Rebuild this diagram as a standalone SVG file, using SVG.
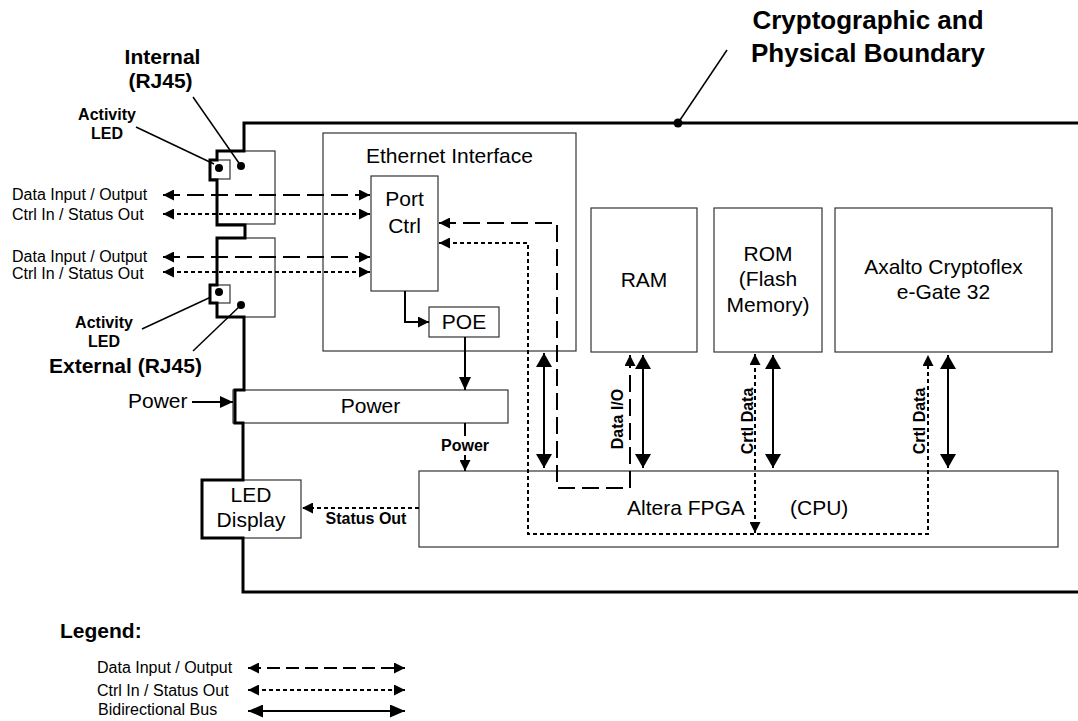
<svg xmlns="http://www.w3.org/2000/svg" width="1078" height="721" viewBox="0 0 1078 721">
<style>
text{font-family:"Liberation Sans",Arial,sans-serif;fill:#000}
.n{font-size:21px}
.b{font-weight:bold}
.s16{font-size:16px}
.t26{font-size:26px;font-weight:bold}
.box{fill:#fff;stroke:#333;stroke-width:1.2}
.bd{fill:none;stroke:#000;stroke-width:3;stroke-linejoin:miter}
.ln{fill:none;stroke:#000;stroke-width:2}
.ld{fill:none;stroke:#000;stroke-width:1.5}
.da{stroke-dasharray:17 7}
.dl{stroke-dasharray:13 6}
.dt{stroke-dasharray:4 3}
.c{text-anchor:middle}
</style>
<defs>
<marker id="sm" viewBox="0 0 11 11" refX="11" refY="5.5" markerWidth="11" markerHeight="11" markerUnits="userSpaceOnUse" orient="auto-start-reverse"><path d="M0,0L11,5.5L0,11z" fill="#000"/></marker>
<marker id="md" viewBox="0 0 13 12" refX="13" refY="6" markerWidth="13" markerHeight="12" markerUnits="userSpaceOnUse" orient="auto-start-reverse"><path d="M0,0L13,6L0,12z" fill="#000"/></marker>
<marker id="lg" viewBox="0 0 14 16" refX="14" refY="8" markerWidth="14" markerHeight="16" markerUnits="userSpaceOnUse" orient="auto-start-reverse"><path d="M0,0L14,8L0,16z" fill="#000"/></marker>
<marker id="lgh" viewBox="0 0 15 13" refX="15" refY="6.5" markerWidth="15" markerHeight="13" markerUnits="userSpaceOnUse" orient="auto-start-reverse"><path d="M0,0L15,6.5L0,13z" fill="#000"/></marker>
</defs>
<rect width="1078" height="721" fill="#fff"/>

<g id="title">
<text class="t26 c" x="868" y="29">Cryptographic and</text>
<text class="t26 c" x="868" y="62">Physical Boundary</text>
<line class="ld" x1="727" y1="50" x2="678" y2="123"/>
</g>

<g id="rj45-internal">
<rect class="box" x="217" y="151" width="58" height="73"/>
<rect class="box" x="210" y="160" width="20" height="19"/>
<circle cx="219" cy="168" r="4"/>
<circle cx="241" cy="166" r="4"/>
</g>
<g id="rj45-external">
<rect class="box" x="217" y="238" width="58" height="79"/>
<rect class="box" x="210" y="285" width="20" height="18"/>
<circle cx="219" cy="292" r="4"/>
<circle cx="241" cy="305" r="4"/>
</g>

<g id="ethernet-interface">
<rect class="box" x="323" y="133" width="253" height="218"/>
<text class="n c" x="449.5" y="163">Ethernet Interface</text>
</g>
<g id="port-ctrl">
<rect class="box" x="371" y="176" width="67" height="115"/>
<text class="n c" x="404.5" y="206">Port</text>
<text class="n c" x="404.5" y="233">Ctrl</text>
</g>
<g id="poe">
<rect class="box" x="429" y="307" width="70" height="30"/>
<text class="n c" x="464" y="329">POE</text>
</g>
<g id="power">
<rect class="box" x="233" y="390" width="275" height="33"/>
<text class="n c" x="370.5" y="413">Power</text>
</g>
<g id="led-display">
<rect class="box" x="202" y="480" width="99" height="58"/>
<text class="n c" x="251" y="502">LED</text>
<text class="n c" x="251" y="527">Display</text>
</g>
<g id="ram">
<rect class="box" x="591" y="208" width="106" height="144"/>
<text class="n c" x="644" y="287">RAM</text>
</g>
<g id="rom">
<rect class="box" x="714" y="208" width="108" height="144"/>
<text class="n c" x="768" y="261">ROM</text>
<text class="n c" x="768" y="286">(Flash</text>
<text class="n c" x="768" y="312">Memory)</text>
</g>
<g id="axalto">
<rect class="box" x="835" y="208" width="217" height="144"/>
<text class="n c" x="943.5" y="274">Axalto Cryptoflex</text>
<text class="n c" x="943.5" y="299">e-Gate 32</text>
</g>
<g id="fpga">
<rect class="box" x="419" y="471" width="639" height="76"/>
<text class="n" x="627" y="515">Altera FPGA</text>
<text class="n" x="790" y="515">(CPU)</text>
</g>

<g id="boundary">
<path class="bd" d="M1078,123 H244 V151 H217 V160 H210 V180 H217 V225 H245 V238 H217 V285 H210 V303 H217 V317 H244 V390 H235 V423 H243 V480 H202 V538 H243 V592 H1078"/>
<circle cx="678" cy="123" r="4.5"/>
</g>

<g id="labels">
<text class="n b c" x="162.5" y="64">Internal</text>
<text class="n b c" x="160.5" y="88">(RJ45)</text>
<line class="ld" x1="193" y1="97" x2="241" y2="166"/>
<text class="s16 b c" x="107" y="120">Activity</text>
<text class="s16 b c" x="107" y="139">LED</text>
<line class="ld" x1="136" y1="127" x2="214" y2="164"/>
<text class="s16 b c" x="104" y="328">Activity</text>
<text class="s16 b c" x="104" y="347">LED</text>
<line class="ld" x1="142" y1="329" x2="211" y2="297"/>
<text class="n b" x="49" y="373">External (RJ45)</text>
<line class="ld" x1="193" y1="351" x2="241" y2="305"/>
<text class="s16" x="12" y="200">Data Input / Output</text>
<text class="s16" x="12" y="220">Ctrl In / Status Out</text>
<text class="s16" x="12" y="262">Data Input / Output</text>
<text class="s16" x="12" y="279">Ctrl In / Status Out</text>
<text class="n" x="128" y="408">Power</text>
<text class="s16 b c" x="465" y="451">Power</text>
<text class="s16 b c" x="366" y="524">Status Out</text>
<text class="s16 b c" transform="translate(623,419) rotate(-90)">Data I/O</text>
<text class="s16 b c" transform="translate(753,421) rotate(-90)">Crtl Data</text>
<text class="s16 b c" transform="translate(925,421) rotate(-90)">Crtl Data</text>
</g>

<g id="connectors">
<path class="ln da" d="M163,195 H370" marker-start="url(#sm)" marker-end="url(#sm)"/>
<path class="ln dt" d="M163,214 H370" marker-start="url(#sm)" marker-end="url(#sm)"/>
<path class="ln da" d="M163,257 H370" marker-start="url(#sm)" marker-end="url(#sm)"/>
<path class="ln dt" d="M163,272 H370" marker-start="url(#sm)" marker-end="url(#sm)"/>
<path class="ln da" d="M439,223 H557 V488 H630 V355" marker-start="url(#sm)" marker-end="url(#sm)"/>
<path class="ln dt" d="M439,243 H528 V534 H928 V355" marker-start="url(#sm)" marker-end="url(#sm)"/>
<path class="ln dt" d="M755,354 V533" marker-start="url(#sm)" marker-end="url(#sm)"/>
<path class="ln" d="M405,291 V322 H429" marker-end="url(#sm)"/>
<path class="ln" d="M465,337 V390" marker-end="url(#md)"/>
<path class="ln" d="M465,423 V436"/>
<path class="ln" d="M465,455 V471" marker-end="url(#sm)"/>
<path class="ln" d="M192,402 H233" marker-end="url(#md)"/>
<path class="ln dt" d="M419,508 H302" marker-end="url(#sm)"/>
<path class="ln" d="M544,353 V468" marker-start="url(#lg)" marker-end="url(#lg)"/>
<path class="ln" d="M643,355 V468" marker-start="url(#lg)" marker-end="url(#lg)"/>
<path class="ln" d="M773,355 V468" marker-start="url(#lg)" marker-end="url(#lg)"/>
<path class="ln" d="M948,355 V468" marker-start="url(#lg)" marker-end="url(#lg)"/>
</g>

<g id="legend">
<text class="n b" x="60" y="638">Legend:</text>
<text class="s16" x="97" y="673">Data Input / Output</text>
<text class="s16" x="97" y="696">Ctrl In / Status Out</text>
<text class="s16" x="98" y="715">Bidirectional Bus</text>
<path class="ln dl" d="M248,668 H405" marker-start="url(#sm)" marker-end="url(#sm)"/>
<path class="ln dt" d="M248,690 H405" marker-start="url(#sm)" marker-end="url(#sm)"/>
<path class="ln" d="M248,711 H405" marker-start="url(#lgh)" marker-end="url(#lgh)"/>
</g>
</svg>
